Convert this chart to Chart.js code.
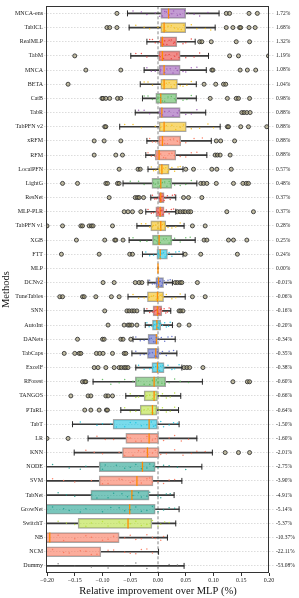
<!DOCTYPE html>
<html>
<head>
<meta charset="utf-8">
<script src="https://cdn.jsdelivr.net/npm/chart.js@4.4.1/dist/chart.umd.min.js"></script>
<style>
  html, body { margin: 0; padding: 0; background: #fff; }
  canvas { display: block; }
</style>
</head>
<body>
<canvas id="boxChart" width="299" height="598"></canvas>
<script>
const methods = ['MNCA-ens','TabICL','RealMLP','TabM','MNCA','BETA','CatB','TabR','TabPFN v2','xRFM',
  'RFM','LocalPFN','LightG','ResNet','MLP-PLR','TabPFN v1','XGB','FTT','MLP','DCNv2',
  'TuneTables','SNN','AutoInt','DANets','TabCaps','ExcelF','RForest','TANGOS','PTaRL','TabT',
  'LR','KNN','NODE','SVM','TabNet','GrowNet','SwitchT','NB','NCM','Dummy'];

const meanGain = ['1.72%','1.68%','1.32%','1.19%','1.08%','1.04%','0.98%','0.88%','0.88%','0.88%',
  '0.88%','0.57%','0.48%','0.37%','0.37%','0.28%','0.25%','0.24%','0.00%','-0.01%',
  '-0.06%','-0.16%','-0.20%','-0.34%','-0.35%','-0.38%','-0.60%','-0.66%','-0.64%','-1.50%',
  '-1.60%','-2.01%','-2.75%','-3.90%','-4.91%','-5.14%','-5.37%','-10.37%','-22.11%','-53.08%'];

// box statistics (relative improvement over MLP)
const whiskLo = [-0.055,-0.052,-0.020,-0.049,-0.025,-0.032,-0.028,-0.041,-0.069,-0.020,
  -0.022,-0.018,-0.063,-0.013,-0.022,-0.038,-0.052,-0.028,0,-0.018,
  -0.054,-0.025,-0.023,-0.045,-0.047,-0.040,-0.117,-0.058,-0.067,-0.154,
  -0.126,-0.151,-0.25,-0.25,-0.25,-0.30,-0.30,-0.50,-0.50,-1.00];
const q1 = [0.005,0.005,0.004,0.001,0.002,0.005,-0.004,0.002,0.002,0.001,
  -0.005,0.001,-0.011,0.001,-0.004,-0.013,-0.010,-0.002,0,-0.004,
  -0.019,-0.009,-0.010,-0.018,-0.019,-0.011,-0.041,-0.025,-0.032,-0.081,
  -0.058,-0.064,-0.106,-0.106,-0.121,-0.25,-0.144,-0.30,-0.50,-0.60];
const med = [0.019,0.011,0.008,0.008,0.011,0.011,0.005,0.007,0.011,0.008,
  0.002,0.007,0.005,0.005,0.004,0.005,0.002,0.004,0,0.001,
  -0.001,-0.001,-0.002,-0.003,-0.004,-0.001,-0.007,-0.007,-0.010,-0.016,
  -0.016,-0.019,-0.028,-0.038,-0.047,-0.051,-0.054,-0.195,-0.25,-0.50];
const q3 = [0.050,0.050,0.034,0.040,0.040,0.035,0.034,0.040,0.051,0.041,
  0.032,0.020,0.025,0.011,0.011,0.014,0.025,0.017,0,0.010,
  0.010,0.007,0.005,-0.001,0.002,0.011,0.014,-0.001,-0.002,-0.001,
  0.001,0.002,-0.005,-0.009,-0.016,-0.005,-0.011,-0.070,-0.103,-0.35];
const whiskHi = [0.110,0.103,0.067,0.091,0.087,0.069,0.069,0.086,0.112,0.096,
  0.088,0.045,0.070,0.032,0.032,0.047,0.067,0.045,0,0.026,
  0.049,0.023,0.026,0.031,0.034,0.043,0.080,0.041,0.037,0.038,
  0.070,0.098,0.079,0.043,0.029,0.038,0.032,0.017,0.001,0.047];

const outliers = [
  [-0.074,0.123,0.129,0.164,0.179],
  [-0.092,-0.087,-0.074,0.123,0.135,0.147,0.149,0.164,0.175],
  [0.075,0.079,0.096,0.141,0.165],
  [-0.150,0.129,0.145,0.199],
  [-0.130,-0.067,0.097,0.099,0.148,0.161,0.176],
  [-0.162,0.083,0.104,0.118,0.122],
  [-0.101,-0.099,-0.094,-0.087,-0.073,-0.067,0.094,0.125,0.141,0.145,0.165],
  [0.151,0.155,0.160,0.166],
  [-0.096,-0.094,0.125,0.127,0.149,0.163,0.196],
  [-0.115,-0.097,-0.067,0.105,0.113,0.138],
  [-0.115,-0.076,-0.064,0.103,0.107,0.112,0.130],
  [-0.070,-0.036,-0.032,0.050,0.064,0.097,0.106,0.132],
  [-0.172,-0.145,-0.094,-0.091,-0.073,-0.070,0.077,0.082,0.088,0.105,0.136,0.153,0.159,0.163],
  [-0.088,-0.041,-0.037,-0.034,-0.026,0.046,0.055,0.079],
  [-0.061,-0.054,-0.046,-0.031,0.035,0.040,0.045,0.049,0.055,0.059,0.124,0.172],
  [-0.200,-0.172,-0.139,-0.136,-0.124,-0.120,-0.117,-0.082,0.062,0.085],
  [-0.147,-0.096,-0.078,-0.076,-0.063,0.083,0.088,0.127,0.136,0.160],
  [-0.174,-0.106,-0.051,-0.046,0.049,0.077,0.143],
  [],
  [-0.099,-0.079,-0.041,-0.034,-0.029,0.031,0.035,0.040,0.043,0.071],
  [-0.177,-0.172,-0.136,-0.133,-0.112,-0.084,-0.070,0.062,0.085],
  [-0.096,-0.056,-0.052,-0.047,-0.043,-0.038,0.038,0.041,0.045],
  [-0.090,-0.061,-0.054,-0.051,-0.047,-0.038,0.038,0.056],
  [-0.145,-0.100,-0.097,-0.067,-0.063,-0.049],
  [-0.169,-0.150,-0.142,-0.139,-0.111,-0.105,-0.099,-0.082,-0.061,-0.058],
  [-0.115,-0.108,-0.094,-0.079,-0.070,-0.066,-0.061,-0.058,-0.054,0.047,0.052,0.057,0.081],
  [-0.136,-0.132,-0.130,0.135,0.161,0.165],
  [-0.157,-0.126,-0.121,-0.094,-0.090,-0.082],
  [-0.132,-0.121,-0.106,-0.093,-0.091],
  [],
  [-0.200,-0.162],
  [0.121,0.145,0.165],
  [],[],[],[],[],[],[],[]
];

// per-dataset results drawn as small dots
const runs = [
  [-0.045,-0.02,-0.005,0.008,0.015,0.025,0.035,0.048,0.065,0.09,0.003,0.012,0.02,0.028,0.04,0.055,0.075,-0.03],
  [-0.04,-0.015,0.0,0.01,0.018,0.03,0.042,0.06,0.085,0.006,0.014,0.024,0.036,0.046,0.07,-0.025,0.095],
  [-0.015,-0.005,0.003,0.01,0.02,0.03,0.045,0.06,0.005,0.012,0.016,0.024,0.028,-0.01,0.05],
  [-0.04,-0.02,0.002,0.01,0.02,0.03,0.05,0.075,0.004,0.014,0.024,0.034,0.038,-0.03,0.065],
  [-0.02,-0.005,0.005,0.012,0.022,0.035,0.05,0.07,0.004,0.016,0.027,0.032,0.045,0.06,-0.012],
  [-0.025,-0.01,0.006,0.012,0.02,0.03,0.045,0.06,0.007,0.015,0.024,0.033,0.04,-0.018,0.052],
  [-0.025,-0.01,0.0,0.008,0.018,0.03,0.045,0.06,-0.002,0.004,0.012,0.024,0.032,-0.018,0.052],
  [-0.035,-0.015,0.002,0.008,0.02,0.035,0.05,0.07,0.004,0.012,0.027,0.038,0.06,-0.025],
  [-0.06,-0.03,-0.005,0.01,0.025,0.04,0.06,0.09,0.005,0.015,0.032,0.046,0.075,-0.045,0.1],
  [-0.015,-0.004,0.004,0.012,0.022,0.035,0.05,0.08,0.002,0.009,0.017,0.028,0.04,0.065,-0.01],
  [-0.018,-0.006,0.0,0.01,0.02,0.03,0.05,0.07,-0.002,0.005,0.014,0.025,0.04,0.06,-0.012],
  [-0.012,-0.004,0.002,0.008,0.014,0.02,0.03,0.04,0.003,0.01,0.017,0.025,-0.008,0.036],
  [-0.05,-0.025,-0.008,0.003,0.012,0.022,0.04,0.06,-0.005,0.008,0.016,0.02,0.03,-0.035,0.05],
  [-0.01,-0.003,0.002,0.005,0.009,0.014,0.022,0.03,0.003,0.007,0.011,0.017,-0.006,0.026],
  [-0.018,-0.008,-0.002,0.003,0.007,0.012,0.02,0.028,0.001,0.005,0.009,0.015,-0.012,0.024],
  [-0.03,-0.015,-0.008,0.0,0.008,0.014,0.025,0.04,-0.01,-0.004,0.004,0.011,0.018,-0.022,0.032],
  [-0.045,-0.02,-0.006,0.004,0.015,0.025,0.04,0.058,-0.002,0.01,0.02,0.03,-0.032,0.05],
  [-0.022,-0.008,0.0,0.004,0.01,0.016,0.025,0.038,0.002,0.007,0.013,0.02,-0.015,0.032],
  [],
  [-0.015,-0.006,-0.002,0.001,0.004,0.008,0.015,0.022,-0.003,0.003,0.006,0.011,-0.01,0.018],
  [-0.045,-0.025,-0.012,-0.003,0.004,0.01,0.025,0.04,-0.016,-0.008,0.0,0.007,-0.035,0.015,0.032],
  [-0.02,-0.01,-0.005,0.0,0.004,0.008,0.014,0.02,-0.007,-0.002,0.002,0.006,-0.015,0.011,0.017],
  [-0.02,-0.011,-0.006,-0.001,0.003,0.008,0.015,0.022,-0.008,-0.003,0.001,0.005,-0.016,0.012,0.019],
  [-0.04,-0.025,-0.015,-0.008,-0.003,0.002,0.012,0.025,-0.017,-0.012,-0.005,0.006,-0.032,0.018],
  [-0.04,-0.025,-0.015,-0.006,-0.001,0.004,0.015,0.028,-0.017,-0.01,-0.003,0.008,-0.032,0.02],
  [-0.035,-0.015,-0.008,0.0,0.005,0.012,0.025,0.038,-0.01,-0.004,0.003,0.009,-0.025,0.018,0.03],
  [-0.1,-0.07,-0.045,-0.025,-0.01,0.0,0.012,0.03,0.055,-0.035,-0.015,-0.003,0.007,-0.06,0.02,0.04,-0.085],
  [-0.05,-0.035,-0.02,-0.01,-0.004,0.003,0.015,0.03,-0.022,-0.015,-0.007,0.0,-0.04,0.008,0.022],
  [-0.06,-0.04,-0.025,-0.012,-0.005,0.002,0.015,0.03,-0.03,-0.018,-0.008,-0.001,-0.05,0.008,0.022],
  [-0.14,-0.11,-0.085,-0.06,-0.04,-0.02,-0.008,0.005,0.02,0.035,-0.075,-0.05,-0.03,-0.012,-0.005,-0.1,0.01,0.028],
  [-0.11,-0.08,-0.05,-0.03,-0.015,-0.005,0.01,0.03,0.055,-0.055,-0.04,-0.02,-0.01,-0.002,-0.095,0.02,0.042],
  [-0.13,-0.1,-0.07,-0.045,-0.025,-0.01,0.005,0.03,0.06,0.085,-0.06,-0.035,-0.018,-0.005,0.015,-0.115,0.045,0.07],
  [-0.19,-0.16,-0.13,-0.1,-0.075,-0.05,-0.03,-0.015,0.0,0.02,0.05,-0.095,-0.06,-0.04,-0.02,-0.008,-0.14,0.01,0.035],
  [-0.19,-0.15,-0.12,-0.09,-0.065,-0.045,-0.03,-0.015,0.0,0.02,-0.1,-0.07,-0.05,-0.02,-0.01,-0.17,0.01,0.03],
  [-0.18,-0.15,-0.12,-0.09,-0.065,-0.045,-0.03,-0.015,0.0,0.015,-0.11,-0.08,-0.055,-0.035,-0.02,-0.165,0.005,0.022],
  [-0.19,-0.16,-0.13,-0.1,-0.07,-0.05,-0.03,-0.01,0.01,0.03,-0.14,-0.085,-0.06,-0.04,-0.02,-0.17,0.0,0.02],
  [-0.18,-0.15,-0.12,-0.09,-0.07,-0.05,-0.03,-0.01,0.005,0.02,-0.13,-0.1,-0.06,-0.04,-0.02,-0.165,0.0,0.012],
  [-0.18,-0.15,-0.12,-0.1,-0.08,-0.06,-0.04,-0.02,-0.005,0.01,-0.17,-0.13,-0.09,-0.05,-0.03,-0.01,0.005],
  [-0.19,-0.16,-0.13,-0.11,-0.09,-0.06,-0.04,-0.02,-0.17,-0.14,-0.12,-0.08,-0.05,-0.03,-0.01],
  [-0.18,-0.12,-0.06,-0.02,0.02,-0.15,-0.09,-0.04,0.0,0.035]
];

// colour family of each method's row
const palette = {
  P: [155, 89, 182], Y: [244, 190, 20], R: [232, 65, 60], S: [250, 118, 90],
  G: [92, 184, 92], C: [30, 195, 224], B: [90, 103, 198], L: [183, 224, 58],
  T: [32, 160, 144], K: [120, 120, 120]
};
const tone = 'PYRRPYGPYSSYGRRYGCSBYRCBBCGLLCSSTSTTLSSK'.split('');
const rgba = (i, a) => { const c = palette[tone[i]]; return `rgba(${c[0]},${c[1]},${c[2]},${a})`; };

const serif = "'Liberation Serif', 'DejaVu Serif', serif";
const rows = methods.map((_, i) => i);
const jitter = [-0.16, 0.08, -0.03, 0.18, -0.1, 0.03, 0.14, -0.2, 0.06, -0.07, 0.2, -0.13, 0.11];

const capPoints = [];
rows.forEach(i => {
  if (whiskHi[i] > whiskLo[i]) {
    capPoints.push({ x: whiskLo[i], y: i }, { x: whiskHi[i], y: i });
  }
});
const outlierPoints = [];
outliers.forEach((list, i) => list.forEach(v => outlierPoints.push({ x: v, y: i })));
const runPoints = [], runColors = [];
runs.forEach((list, i) => list.forEach((v, k) => {
  runPoints.push({ x: v, y: i + jitter[k % jitter.length] });
  runColors.push(rgba(i, 0.9));
}));

const frame = {
  id: 'frame',
  afterDatasetsDraw(chart) {
    const { ctx, chartArea: a } = chart;
    ctx.save();
    ctx.strokeStyle = '#333';
    ctx.lineWidth = 1;
    ctx.strokeRect(Math.round(a.left) - 0.5, Math.round(a.top) + 0.5,
      Math.round(a.right - a.left), Math.round(a.bottom - a.top) - 1);
    ctx.restore();
  }
};

const fmt = v => {
  if (Math.abs(v) < 1e-9) return '0.00';
  const s = v.toFixed(2);
  return v < 0 ? '\u2212' + s.slice(1) : s;
};

new Chart(document.getElementById('boxChart'), {
  data: {
    labels: methods,
    datasets: [
      {
        type: 'scatter', yAxisID: 'y2', order: 0,
        data: runPoints, pointRadius: 0.75, pointBorderWidth: 0,
        backgroundColor: runColors, borderColor: runColors
      },
      {
        type: 'scatter', yAxisID: 'y2', order: 1,
        data: rows.map(i => ({ x: med[i], y: i })),
        pointStyle: 'line', rotation: 90, pointRadius: 5,
        borderColor: '#ff8a00', pointBorderWidth: 1.3
      },
      {
        type: 'scatter', yAxisID: 'y2', order: 2,
        data: capPoints, pointStyle: 'line', rotation: 90, pointRadius: 3,
        borderColor: '#2a2a2a', pointBorderWidth: 1
      },
      {
        type: 'scatter', yAxisID: 'y2', order: 3,
        data: outlierPoints, pointRadius: 2, pointBorderWidth: 0.9,
        borderColor: '#333', backgroundColor: 'rgba(150,140,95,0.55)'
      },
      {
        type: 'bar', yAxisID: 'y', order: 4, grouped: false, clip: 0,
        data: rows.map(i => [q1[i], q3[i]]),
        backgroundColor: rows.map(i => rgba(i, 0.6)),
        borderColor: '#a8a8a8', borderWidth: 1, borderSkipped: false, barThickness: 10
      },
      {
        type: 'bar', yAxisID: 'y', order: 5, grouped: false, clip: 0,
        data: rows.map(i => [whiskLo[i], q1[i]]),
        backgroundColor: '#3a3a3a', borderWidth: 0, barThickness: 1
      },
      {
        type: 'bar', yAxisID: 'y', order: 5, grouped: false, clip: 0,
        data: rows.map(i => [q3[i], whiskHi[i]]),
        backgroundColor: '#3a3a3a', borderWidth: 0, barThickness: 1
      },
      {
        type: 'line', yAxisID: 'y2', order: 6,
        data: [{ x: 0, y: -0.5 }, { x: 0, y: 39.5 }],
        borderColor: '#666', borderWidth: 0.8, borderDash: [3, 2], pointRadius: 0
      }
    ]
  },
  options: {
    indexAxis: 'y',
    responsive: false,
    animation: false,
    layout: { padding: { top: 5 } },
    plugins: { legend: { display: false }, tooltip: { enabled: false } },
    scales: {
      x: {
        type: 'linear', min: -0.2, max: 0.2,
        ticks: { stepSize: 0.05, callback: v => fmt(v), font: { family: serif, size: 6 }, color: '#222', padding: 1, maxRotation: 0 },
        grid: { drawOnChartArea: false, tickLength: 3, color: '#333' },
        border: { display: false },
        title: { display: true, text: 'Relative improvement over MLP (%)', font: { family: serif, size: 10.5 }, color: '#111', padding: { top: 0, bottom: 0 } },
        afterFit: s => { s.height = 25; }
      },
      y: {
        type: 'category', offset: true,
        ticks: { autoSkip: false, font: { family: serif, size: 6 }, color: '#222', padding: 1 },
        grid: { offset: false, color: '#c4c4c4', lineWidth: 0.6, tickLength: 3, tickBorderDash: [1.5, 1.5] },
        border: { display: false, dash: [1.5, 1.5] },
        title: { display: true, text: 'Methods', font: { family: serif, size: 10.5 }, color: '#111', padding: 0 },
        afterFit: s => { s.width = 47; }
      },
      yR: {
        type: 'category', position: 'right', offset: true, labels: meanGain,
        ticks: { autoSkip: false, font: { family: serif, size: 5.5 }, color: '#222', padding: 2 },
        grid: { offset: false, drawOnChartArea: false, color: '#c4c4c4', lineWidth: 0.6, tickLength: 5, tickBorderDash: [1.5, 1.5] },
        border: { display: false },
        afterFit: s => { s.width = 30; }
      },
      y2: { type: 'linear', display: false, min: -0.5, max: 39.5, reverse: true }
    }
  },
  plugins: [frame]
});
</script>
</body>
</html>
